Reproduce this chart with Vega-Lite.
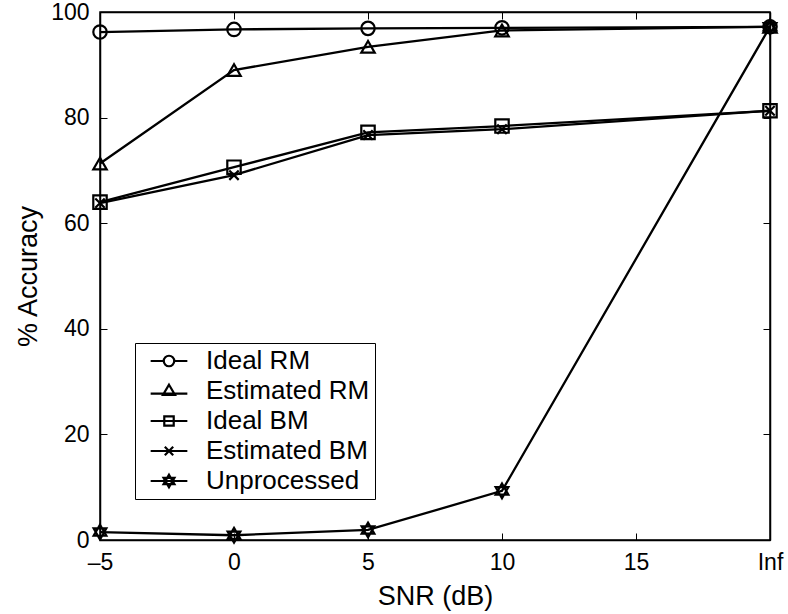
{
  "$schema": "https://vega.github.io/schema/vega-lite/v6.json",
  "width": 670,
  "height": 528,
  "autosize": "none",
  "padding": {"left": 100, "top": 12, "right": 18, "bottom": 74},
  "background": "white",
  "config": {
    "font": "Liberation Sans",
    "view": {"stroke": "black", "strokeWidth": 1.5},
    "axis": {
      "domainColor": "black",
      "domainWidth": 1.5,
      "tickColor": "black",
      "tickWidth": 1,
      "tickSize": -7,
      "grid": false,
      "labelColor": "black",
      "titleColor": "black",
      "labelFont": "Liberation Sans",
      "titleFont": "Liberation Sans",
      "labelFontSize": 23,
      "titleFontSize": 27,
      "titleFontWeight": "normal"
    }
  },
  "data": {
    "values": [
      {"series": "Ideal RM", "snr": -5, "accuracy": 96.2},
      {"series": "Ideal RM", "snr": 0, "accuracy": 96.7},
      {"series": "Ideal RM", "snr": 5, "accuracy": 96.9},
      {"series": "Ideal RM", "snr": 10, "accuracy": 97.0},
      {"series": "Ideal RM", "snr": 20, "accuracy": 97.2},
      {"series": "Estimated RM", "snr": -5, "accuracy": 71.3},
      {"series": "Estimated RM", "snr": 0, "accuracy": 89.0},
      {"series": "Estimated RM", "snr": 5, "accuracy": 93.4},
      {"series": "Estimated RM", "snr": 10, "accuracy": 96.5},
      {"series": "Estimated RM", "snr": 20, "accuracy": 97.2},
      {"series": "Ideal BM", "snr": -5, "accuracy": 64.0},
      {"series": "Ideal BM", "snr": 0, "accuracy": 70.6},
      {"series": "Ideal BM", "snr": 5, "accuracy": 77.2},
      {"series": "Ideal BM", "snr": 10, "accuracy": 78.4},
      {"series": "Ideal BM", "snr": 20, "accuracy": 81.3},
      {"series": "Estimated BM", "snr": -5, "accuracy": 63.8},
      {"series": "Estimated BM", "snr": 0, "accuracy": 69.1},
      {"series": "Estimated BM", "snr": 5, "accuracy": 76.7},
      {"series": "Estimated BM", "snr": 10, "accuracy": 77.8},
      {"series": "Estimated BM", "snr": 20, "accuracy": 81.3},
      {"series": "Unprocessed", "snr": -5, "accuracy": 1.5},
      {"series": "Unprocessed", "snr": 0, "accuracy": 0.9},
      {"series": "Unprocessed", "snr": 5, "accuracy": 1.9},
      {"series": "Unprocessed", "snr": 10, "accuracy": 9.3},
      {"series": "Unprocessed", "snr": 20, "accuracy": 97.2}
    ]
  },
  "layer": [
    {
      "mark": {"type": "line", "color": "black", "strokeWidth": 2.3},
      "encoding": {
        "x": {
          "field": "snr", "type": "quantitative",
          "scale": {"domain": [-5, 20], "nice": false, "zero": false},
          "axis": {"values": [-5, 0, 5, 10, 15, 20], "labelExpr": "datum.value == 20 ? 'Inf' : (datum.value < 0 ? '\u2013' + abs(datum.value) : datum.label)", "title": "SNR (dB)", "labelPadding": 18, "titlePadding": 9, "labelFlush": false}
        },
        "y": {
          "field": "accuracy", "type": "quantitative",
          "scale": {"domain": [0, 100], "nice": false},
          "axis": {"values": [0, 20, 40, 60, 80, 100], "title": "% Accuracy", "labelPadding": 18, "titlePadding": 8, "labelFlush": false}
        },
        "detail": {"field": "series", "type": "nominal"}
      }
    },
    {
      "mark": {"type": "point", "filled": false, "color": "black", "strokeWidth": 2.2, "size": 180, "opacity": 1},
      "encoding": {
        "x": {"field": "snr", "type": "quantitative", "axis": null},
        "y": {"field": "accuracy", "type": "quantitative", "axis": null},
        "shape": {
          "field": "series", "type": "nominal",
          "scale": {
            "domain": ["Ideal RM", "Estimated RM", "Ideal BM", "Estimated BM", "Unprocessed"],
            "range": ["circle", "triangle-up", "square", "M-0.7,-0.7L0.7,0.7M-0.7,0.7L0.7,-0.7", "M0,-1.1L0.95,0.55L-0.95,0.55Z M0,1.1L0.95,-0.55L-0.95,-0.55Z"]
          },
          "legend": null
        }
      }
    },
    {
      "mark": {"type": "point", "opacity": 0, "filled": false, "color": "black"},
      "encoding": {
        "x": {"field": "snr", "type": "quantitative", "axis": {"orient": "top", "values": [-5, 0, 5, 10, 15, 20], "labels": false, "title": null}},
        "y": {"field": "accuracy", "type": "quantitative", "axis": {"orient": "right", "values": [0, 20, 40, 60, 80, 100], "labels": false, "title": null}},
        "shape": {
          "field": "series", "type": "nominal",
          "scale": {
            "domain": ["Ideal RM", "Estimated RM", "Ideal BM", "Estimated BM", "Unprocessed"],
            "range": [
              "M-3.5,0H-1M1,0H3.5M1,0A1,1 0 1 1 -1,0A1,1 0 1 1 1,0",
              "M-3.5,0.5H3.5M0,-1.2L1.15,0.75L-1.15,0.75Z",
              "M-3.5,0H3.5M-0.9,-0.9H0.9V0.9H-0.9Z",
              "M-3.5,0H3.5M-0.8,-0.8L0.8,0.8M-0.8,0.8L0.8,-0.8",
              "M-3.5,0H3.5M0,-1.2L1.04,0.6L-1.04,0.6Z M0,1.2L1.04,-0.6L-1.04,-0.6Z"
            ]
          },
          "legend": {
            "title": null,
            "orient": "none",
            "legendX": 35,
            "legendY": 331,
            "padding": 5,
            "strokeColor": "black",
            "fillColor": "white",
            "labelFontSize": 26,
            "labelFont": "Liberation Sans",
            "labelColor": "black",
            "labelLimit": 400,
            "symbolSize": 110,
            "symbolStrokeWidth": 2.2,
            "symbolStrokeColor": "black",
            "symbolFillColor": "transparent",
            "symbolOpacity": 1,
            "symbolOffset": 16,
            "labelOffset": 24,
            "rowPadding": 4
          }
        }
      }
    }
  ],
  "resolve": {"axis": {"x": "independent", "y": "independent"}, "scale": {"shape": "independent"}, "legend": {"shape": "independent"}}
}
